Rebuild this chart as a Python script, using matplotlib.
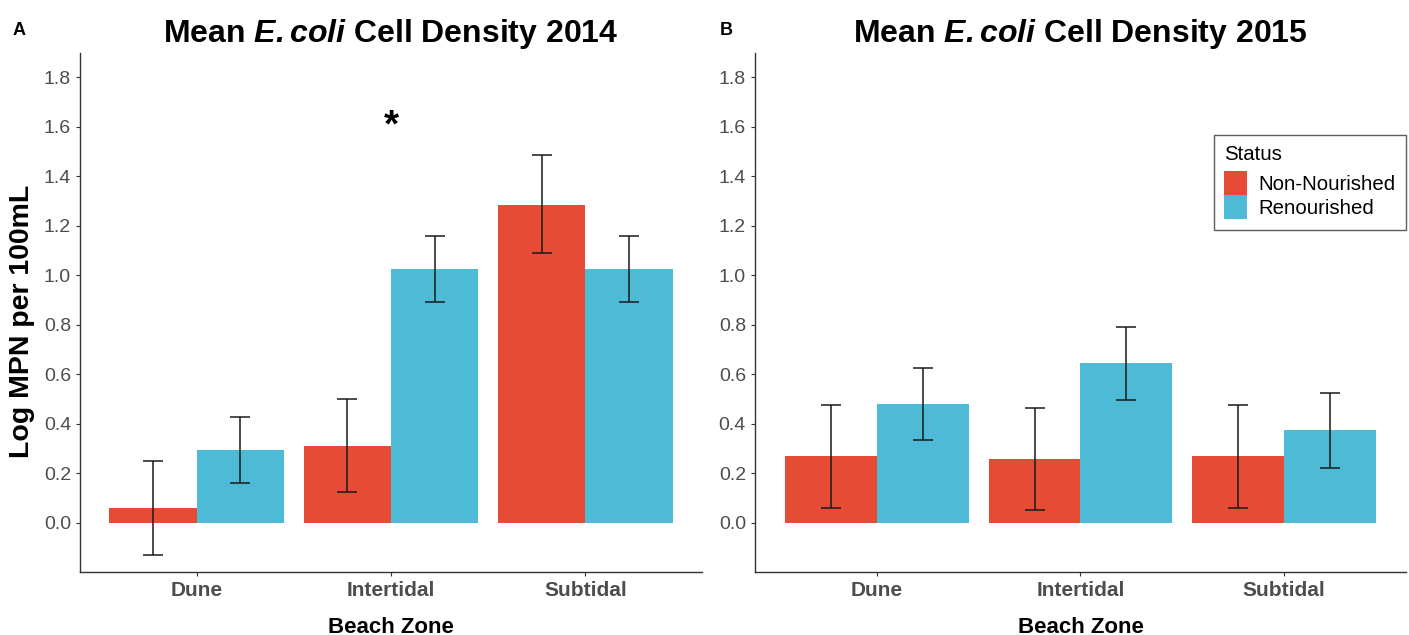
import numpy as np
import matplotlib
matplotlib.use("Agg")
import matplotlib.pyplot as plt
from matplotlib.patches import Patch

plt.rcParams['font.family'] = ['Liberation Sans', 'DejaVu Sans']
plt.rcParams['mathtext.fontset'] = 'custom'
plt.rcParams['mathtext.rm'] = 'Liberation Sans'
plt.rcParams['mathtext.it'] = 'Liberation Sans:italic'
plt.rcParams['mathtext.bf'] = 'Liberation Sans:bold'
plt.rcParams['mathtext.bfit'] = 'Liberation Sans:italic:bold'

zones = ["Dune", "Intertidal", "Subtidal"]
status = ["Non-Nourished", "Renourished"]
colors = ["#E64B35", "#4DBBD5"]

# mean log MPN per 100 mL, with lower / upper error limits
mean_2014_nn = [0.06, 0.31, 1.285]
low_2014_nn = [-0.13, 0.125, 1.09]
high_2014_nn = [0.25, 0.50, 1.485]
mean_2014_rn = [0.295, 1.027, 1.027]
low_2014_rn = [0.16, 0.893, 0.893]
high_2014_rn = [0.427, 1.160, 1.160]

mean_2015_nn = [0.272, 0.258, 0.272]
low_2015_nn = [0.061, 0.053, 0.061]
high_2015_nn = [0.475, 0.466, 0.475]
mean_2015_rn = [0.481, 0.646, 0.375]
low_2015_rn = [0.333, 0.498, 0.221]
high_2015_rn = [0.627, 0.792, 0.525]

yticks = [0.0, 0.2, 0.4, 0.6, 0.8, 1.0, 1.2, 1.4, 1.6, 1.8]

fig = plt.figure(figsize=(14.09, 6.35), dpi=100)
ax0 = fig.add_axes([0.0568, 0.0992, 0.4414, 0.8173])
ax1 = fig.add_axes([0.5358, 0.0992, 0.4621, 0.8173])

panels = [
    (ax0, "2014", [(mean_2014_nn, low_2014_nn, high_2014_nn),
                   (mean_2014_rn, low_2014_rn, high_2014_rn)]),
    (ax1, "2015", [(mean_2015_nn, low_2015_nn, high_2015_nn),
                   (mean_2015_rn, low_2015_rn, high_2015_rn)]),
]

x = np.arange(1, len(zones) + 1)
w = 0.45
for ax, year, series in panels:
    for i, (m, lo, hi) in enumerate(series):
        pos = x + (i - 0.5) * w
        m = np.array(m)
        ax.bar(pos, m, width=w, color=colors[i], zorder=2)
        err = [m - np.array(lo), np.array(hi) - m]
        ax.errorbar(pos, m, yerr=err, fmt="none", ecolor="#1a1a1a",
                    elinewidth=1.1, capsize=7.5, capthick=1.1, zorder=3)
    ax.set_xlim(0.4, 3.6)
    ax.set_ylim(-0.198, 1.897)
    ax.set_yticks(yticks)
    ax.set_yticklabels([f"{v:.1f}" for v in yticks])
    ax.set_xticks(x)
    ax.set_xticklabels(zones, fontweight="bold")
    ax.tick_params(axis="both", colors="#333333", labelcolor="#4D4D4D",
                   labelsize=14, length=3, width=0.8)
    ax.tick_params(axis="x", labelsize=15)
    for s in ["top", "right"]:
        ax.spines[s].set_visible(False)
    for s in ["left", "bottom"]:
        ax.spines[s].set_color("#333333")
        ax.spines[s].set_linewidth(1.0)
    ax.set_xlabel("Beach Zone", fontsize=16, fontweight="bold", labelpad=12)
    ax.set_title(r"Mean $\mathbfit{E.coli}$ Cell Density " + year,
                 fontsize=23, fontweight="bold", pad=8)

ax0.set_ylabel("Log MPN per 100mL", fontsize=20.5, fontweight="bold",
               labelpad=6)
ax0.yaxis.label.set_y(0.4836)
ax0.text(2, 1.60, "*", fontsize=28, fontweight="bold", ha="center",
         va="center")

fig.text(0.009, 0.945, "A", fontsize=13, fontweight="bold")
fig.text(0.511, 0.945, "B", fontsize=13, fontweight="bold")

handles = [Patch(facecolor=c, edgecolor="none") for c in colors]
leg = ax1.legend(handles, status, title="Status", loc="upper right",
                 bbox_to_anchor=(1.0, 0.8415), fontsize=14.7,
                 title_fontsize=14.7, frameon=True, fancybox=False,
                 handlelength=1.14, handleheight=1.43, handletextpad=0.55,
                 labelspacing=0.0, borderpad=0.5, borderaxespad=0.0)
leg.get_frame().set_edgecolor("#333333")
leg.get_frame().set_linewidth(1.0)
leg._legend_box.align = "left"
leg._legend_box.sep = 5

fig.savefig("out.png", dpi=100)
